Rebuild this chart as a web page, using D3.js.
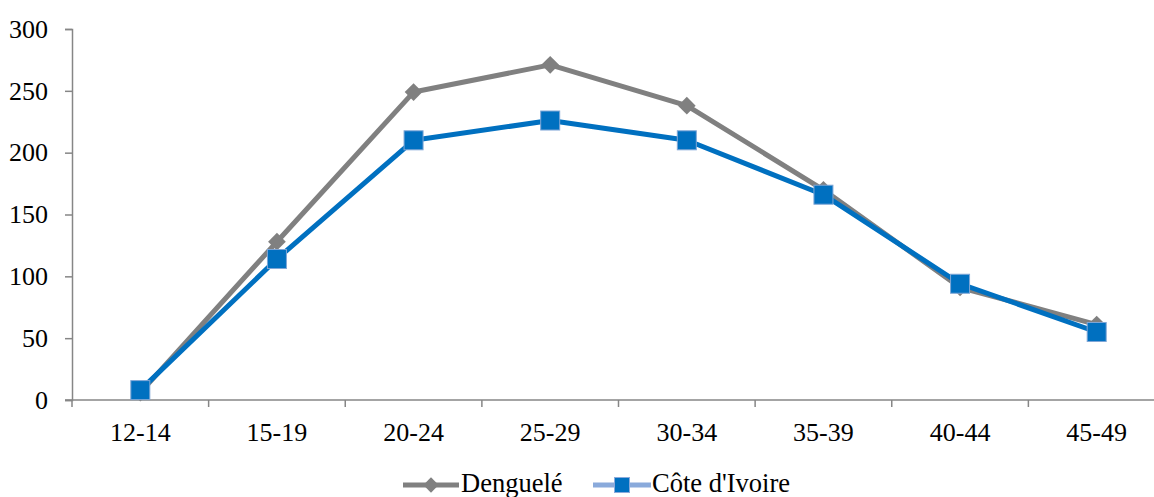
<!DOCTYPE html>
<html>
<head>
<meta charset="utf-8">
<script src="https://cdn.jsdelivr.net/npm/d3@7"></script>
<style>
  html, body { margin: 0; padding: 0; background: #fff; overflow: hidden; }
  svg { display: block; }
  svg text { font-family: "Liberation Serif", "Times New Roman", Tinos, "DejaVu Serif", serif !important; fill: #000; }
</style>
</head>
<body>
<svg id="chart" width="1154" height="497"></svg>
<script>
// Age groups and fertility rates (per 1000 women)
const ageGroups = ["12-14", "15-19", "20-24", "25-29", "30-34", "35-39", "40-44", "45-49"];
const denguele = [6, 128, 249, 271, 238, 170, 91, 61];
const coteDIvoire = [8, 114, 210, 226, 210, 166, 94, 55];
const yTicks = [0, 50, 100, 150, 200, 250, 300];

const svg = d3.select("#chart");
const plotLeft = 72, plotRight = 1165, plotTop = 29, plotBottom = 400;
const axisColor = "#868686";
const axisFont = "26px";
const legendFont = "26.5px";

const x = d3.scaleBand().domain(ageGroups).range([plotLeft, plotRight]).paddingInner(0).paddingOuter(0);
const y = d3.scaleLinear().domain([0, 300]).range([plotBottom, plotTop]);

// Y axis
const yAxis = svg.append("g")
  .attr("transform", `translate(${plotLeft},0)`)
  .call(d3.axisLeft(y).tickValues(yTicks).tickSize(7).tickPadding(17));
yAxis.select(".domain").attr("stroke", axisColor).attr("stroke-width", 1.5);
yAxis.selectAll(".tick line").attr("stroke", axisColor).attr("stroke-width", 1.5);
yAxis.selectAll(".tick text").style("font-size", axisFont).attr("dy", "0.32em");

// X axis: ticks at band boundaries
const xg = svg.append("g");
xg.append("line")
  .attr("x1", plotLeft - 7).attr("x2", plotRight)
  .attr("y1", plotBottom).attr("y2", plotBottom)
  .attr("stroke", axisColor).attr("stroke-width", 1.5);
const boundaries = ageGroups.map(d => x(d)).concat([x(ageGroups[ageGroups.length - 1]) + x.bandwidth()]);
xg.selectAll("line.tk").data(boundaries).join("line")
  .attr("class", "tk")
  .attr("x1", d => d).attr("x2", d => d)
  .attr("y1", plotBottom).attr("y2", plotBottom + 7)
  .attr("stroke", axisColor).attr("stroke-width", 1.5);
xg.selectAll("text").data(ageGroups).join("text")
  .attr("x", d => x(d) + x.bandwidth() / 2)
  .attr("y", 441)
  .attr("text-anchor", "middle")
  .style("font-size", axisFont)
  .text(d => d);

const cx = d => x(d) + x.bandwidth() / 2;
const line = d3.line().x((d, i) => cx(ageGroups[i])).y(d => y(d));

// Denguelé series: grey line with diamonds
const grey = "#808080";
svg.append("path").datum(denguele)
  .attr("d", line).attr("fill", "none")
  .attr("stroke", grey).attr("stroke-width", 5).attr("stroke-linejoin", "round");
const diamond = d3.symbol().type(d3.symbolDiamond2).size(200);
svg.selectAll("path.dm").data(denguele).join("path")
  .attr("class", "dm")
  .attr("d", diamond)
  .attr("transform", (d, i) => `translate(${cx(ageGroups[i])},${y(d)})`)
  .attr("fill", grey);

// Côte d'Ivoire series: blue line with squares
const blue = "#0070C0";
svg.append("path").datum(coteDIvoire)
  .attr("d", line).attr("fill", "none")
  .attr("stroke", blue).attr("stroke-width", 5).attr("stroke-linejoin", "round");
const sq = 19;
svg.selectAll("rect.sq").data(coteDIvoire).join("rect")
  .attr("class", "sq")
  .attr("x", (d, i) => cx(ageGroups[i]) - sq / 2)
  .attr("y", d => y(d) - sq / 2)
  .attr("width", sq).attr("height", sq)
  .attr("fill", blue)
  .attr("stroke", "#7FA6D6").attr("stroke-width", 1);

// Legend
const ly = 485;
const lg = svg.append("g");
lg.append("line").attr("x1", 403).attr("x2", 459).attr("y1", ly).attr("y2", ly)
  .attr("stroke", grey).attr("stroke-width", 5);
lg.append("path").attr("d", d3.symbol().type(d3.symbolDiamond2).size(150))
  .attr("transform", `translate(431,${ly})`).attr("fill", grey);
lg.append("text").attr("x", 461).attr("y", 492).style("font-size", legendFont).text("Denguelé");

lg.append("line").attr("x1", 593).attr("x2", 651).attr("y1", ly).attr("y2", ly)
  .attr("stroke", "#8AAADB").attr("stroke-width", 5);
lg.append("rect").attr("x", 622 - 7.5).attr("y", ly - 7.5).attr("width", 15).attr("height", 15)
  .attr("fill", blue).attr("stroke", "#8AAADB").attr("stroke-width", 1);
lg.append("text").attr("x", 652).attr("y", 492).style("font-size", legendFont).text("Côte d'Ivoire");
</script>
</body>
</html>
